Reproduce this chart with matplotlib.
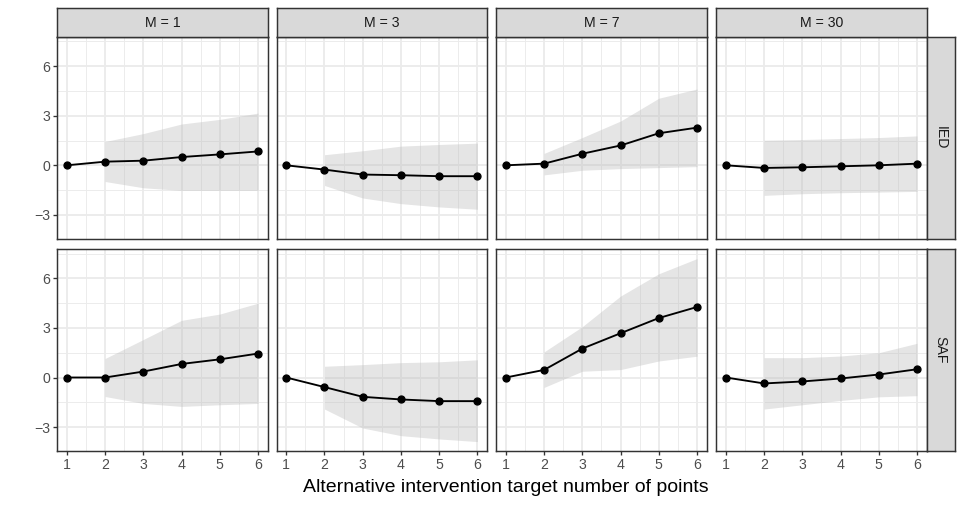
import matplotlib
matplotlib.use("Agg")
import matplotlib.pyplot as plt

plt.rcParams['font.family'] = ['Liberation Sans', 'DejaVu Sans']

x_points = [1, 2, 3, 4, 5, 6]
x_ribbon = [2, 3, 4, 5, 6]
m_labels = ["M = 1", "M = 3", "M = 7", "M = 30"]
row_labels = ["IED", "SAF"]
x_ticks = [1, 2, 3, 4, 5, 6]
y_ticks = [-3, 0, 3, 6]

# IED estimates and ribbons (per M)
ied_est = [
    [0, 0.22, 0.28, 0.50, 0.66, 0.84],
    [0, -0.26, -0.56, -0.60, -0.66, -0.66],
    [0, 0.10, 0.70, 1.20, 1.94, 2.28],
    [0, -0.16, -0.12, -0.06, 0.00, 0.10],
]
ied_low = [
    [-0.98, -1.36, -1.52, -1.52, -1.52],
    [-1.22, -1.98, -2.32, -2.52, -2.66],
    [-0.58, -0.30, -0.20, -0.14, -0.08],
    [-1.82, -1.72, -1.66, -1.62, -1.58],
]
ied_high = [
    [1.44, 1.92, 2.50, 2.78, 3.16],
    [0.64, 0.88, 1.16, 1.26, 1.34],
    [0.72, 1.68, 2.68, 4.06, 4.62],
    [1.52, 1.56, 1.62, 1.68, 1.78],
]
# SAF estimates and ribbons (per M)
saf_est = [
    [0, 0.00, 0.36, 0.82, 1.10, 1.45],
    [0, -0.58, -1.17, -1.33, -1.43, -1.43],
    [0, 0.46, 1.75, 2.68, 3.60, 4.27],
    [0, -0.36, -0.24, -0.06, 0.18, 0.50],
]
saf_low = [
    [-1.15, -1.57, -1.75, -1.65, -1.57],
    [-1.91, -3.06, -3.52, -3.72, -3.88],
    [-0.60, 0.38, 0.48, 1.00, 1.29],
    [-1.91, -1.65, -1.39, -1.17, -1.10],
]
saf_high = [
    [1.15, 2.30, 3.46, 3.84, 4.50],
    [0.68, 0.78, 0.90, 0.95, 1.07],
    [1.55, 3.08, 4.93, 6.28, 7.20],
    [1.20, 1.20, 1.30, 1.50, 2.07],
]

W, H = 965, 506
DPI = 96
fig = plt.figure(figsize=(W / DPI, H / DPI), dpi=DPI)
fig.patch.set_facecolor('white')

col_left = [57.3, 276.7, 496.3, 716.3]
pw = 210.3
row_top = [37.3, 249.5]
ph = 201.5
strip_h = 29.3
rstrip_w = 28.3

def px(l, t, w, h):
    return [l / W, 1 - (t + h) / H, w / W, h / H]

grid_col = '#EBEBEB'
border_col = '#333333'
strip_fill = '#D9D9D9'
tick_col = '#4D4D4D'
FS = 10.6

est_rows = [ied_est, saf_est]
low_rows = [ied_low, saf_low]
high_rows = [ied_high, saf_high]

for r in range(2):
    for c in range(4):
        ax = fig.add_axes(px(col_left[c], row_top[r], pw, ph))
        ax.set_xlim(0.75, 6.25)
        ax.set_ylim(-4.45, 7.75)
        ax.set_xticks(x_ticks)
        ax.set_yticks(y_ticks)
        ax.set_xticks([1.5, 2.5, 3.5, 4.5, 5.5], minor=True)
        ax.set_yticks([-1.5, 1.5, 4.5, 7.5], minor=True)
        ax.grid(True, which='major', color=grid_col, linewidth=1.4, zorder=0)
        ax.grid(True, which='minor', color=grid_col, linewidth=0.7, zorder=0)
        ax.set_axisbelow(True)
        for s in ax.spines.values():
            s.set_color(border_col)
            s.set_linewidth(1.1)
        ax.tick_params(which='minor', length=0)
        ax.tick_params(which='major', length=3, width=1.0, color=border_col,
                       labelcolor=tick_col, labelsize=FS, pad=2.5)
        if c != 0:
            ax.tick_params(axis='y', which='major', length=0, labelleft=False)
        else:
            ax.set_yticklabels([f"\u2212{abs(v)}" if v < 0 else str(v) for v in y_ticks])
        if r != 1:
            ax.tick_params(axis='x', which='major', length=0, labelbottom=False)

        ax.fill_between(x_ribbon, low_rows[r][c], high_rows[r][c],
                        color='#BEBEBE', alpha=0.4, linewidth=0, zorder=2)
        ax.plot(x_points, est_rows[r][c], color='black', linewidth=1.4,
                marker='o', markersize=5.2, zorder=3)

        if r == 0:
            sax = fig.add_axes(px(col_left[c], row_top[0] - strip_h, pw, strip_h))
            sax.set_xticks([]); sax.set_yticks([])
            sax.set_facecolor(strip_fill)
            for s in sax.spines.values():
                s.set_color(border_col); s.set_linewidth(1.1)
            sax.text(0.5, 0.5, m_labels[c], ha='center', va='center',
                     fontsize=FS, color='#1A1A1A', transform=sax.transAxes)
        if c == 3:
            rax = fig.add_axes(px(col_left[3] + pw, row_top[r], rstrip_w, ph))
            rax.set_xticks([]); rax.set_yticks([])
            rax.set_facecolor(strip_fill)
            for s in rax.spines.values():
                s.set_color(border_col); s.set_linewidth(1.1)
            rax.text(0.5, 0.5, row_labels[r], ha='center', va='center',
                     rotation=-90, fontsize=FS, color='#1A1A1A',
                     transform=rax.transAxes)

fig.text((col_left[0] + col_left[3] + pw + rstrip_w) / 2 / W, 1 - 488 / H,
         "Alternative intervention target number of points",
         ha='center', va='center', fontsize=14.6, color='black')

fig.savefig("out.png", dpi=DPI, facecolor='white')
